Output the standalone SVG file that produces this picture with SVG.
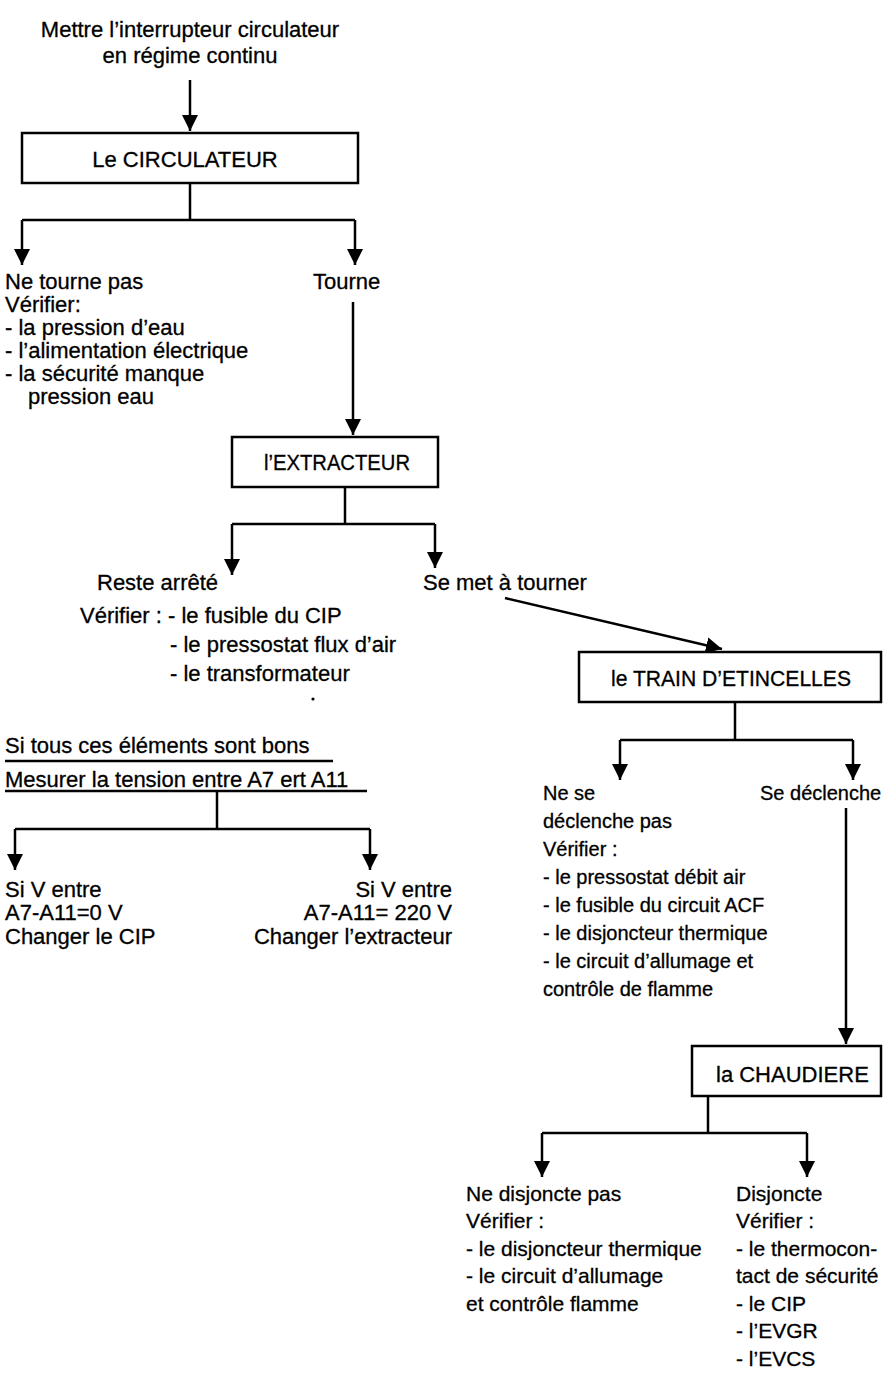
<svg xmlns="http://www.w3.org/2000/svg" width="883" height="1374" viewBox="0 0 883 1374">
<style>
text{font-family:"Liberation Sans",Arial,sans-serif;font-size:22px;fill:#000;stroke:#000;stroke-width:0.3}
.s21{font-size:21px}
.s20{font-size:20px}
.box{fill:#fff;stroke:#000;stroke-width:2.5}
.ln{fill:none;stroke:#000;stroke-width:2.5}
</style>
<defs>
<marker id="ah" viewBox="0 0 10 10" refX="10" refY="5" markerUnits="userSpaceOnUse" markerWidth="16" markerHeight="20" orient="auto">
<path d="M0,0 L10,5 L0,10 z" fill="#000"/>
</marker>
</defs>
<rect width="883" height="1374" fill="#fff"/>

<g id="connectors">
<line class="ln" x1="190" y1="80" x2="190" y2="131" marker-end="url(#ah)"/>
<path class="ln" d="M190 183 V220 M22 220 H355"/>
<line class="ln" x1="22" y1="220" x2="22" y2="265" marker-end="url(#ah)"/>
<line class="ln" x1="355" y1="220" x2="355" y2="265" marker-end="url(#ah)"/>
<line class="ln" x1="353" y1="302" x2="353" y2="435" marker-end="url(#ah)"/>
<path class="ln" d="M345 487 V524 M232 524 H435"/>
<line class="ln" x1="232" y1="524" x2="232" y2="575" marker-end="url(#ah)"/>
<line class="ln" x1="435" y1="524" x2="435" y2="568" marker-end="url(#ah)"/>
<line class="ln" x1="505" y1="598" x2="722" y2="649" marker-end="url(#ah)"/>
<path class="ln" d="M735 702 V740 M620 740 H853"/>
<line class="ln" x1="620" y1="740" x2="620" y2="780" marker-end="url(#ah)"/>
<line class="ln" x1="853" y1="740" x2="853" y2="780" marker-end="url(#ah)"/>
<line class="ln" x1="846" y1="808" x2="846" y2="1044" marker-end="url(#ah)"/>
<path class="ln" d="M708 1096 V1133 M542 1133 H807"/>
<line class="ln" x1="542" y1="1133" x2="542" y2="1177" marker-end="url(#ah)"/>
<line class="ln" x1="807" y1="1133" x2="807" y2="1177" marker-end="url(#ah)"/>
<path class="ln" d="M5 761 H333 M5 791 H367 M217 791 V829 M15 829 H370"/>
<line class="ln" x1="15" y1="829" x2="15" y2="870" marker-end="url(#ah)"/>
<line class="ln" x1="370" y1="829" x2="370" y2="870" marker-end="url(#ah)"/>
</g>

<g id="start">
<text x="190" y="37" text-anchor="middle">Mettre l’interrupteur circulateur</text>
<text x="190" y="63" text-anchor="middle">en régime continu</text>
</g>

<g id="circulateur">
<rect class="box" x="22" y="133" width="336" height="50"/>
<text x="185" y="167" text-anchor="middle">Le CIRCULATEUR</text>
</g>

<g id="ne-tourne-pas">
<text x="5" y="289">Ne tourne pas</text>
<text x="5" y="312">Vérifier:</text>
<text x="5" y="335">- la pression d’eau</text>
<text x="5" y="358">- l’alimentation électrique</text>
<text x="5" y="381">- la sécurité manque</text>
<text x="28" y="404">pression eau</text>
</g>

<g id="tourne">
<text x="313" y="289">Tourne</text>
</g>

<g id="extracteur">
<rect class="box" x="232" y="437" width="206" height="50"/>
<text x="337" y="470" text-anchor="middle" textLength="146" lengthAdjust="spacingAndGlyphs">l’EXTRACTEUR</text>
</g>

<g id="reste-arrete">
<text x="97" y="590">Reste arrêté</text>
<text x="80" y="623">Vérifier : - le fusible du CIP</text>
<text x="170" y="652">- le pressostat flux d’air</text>
<text x="170" y="681">- le transformateur</text>
<circle cx="313" cy="699" r="1.6" fill="#000"/>
</g>

<g id="se-met-a-tourner">
<text x="423" y="590">Se met à tourner</text>
</g>

<g id="train">
<rect class="box" x="579" y="652" width="302" height="50"/>
<text x="731" y="686" text-anchor="middle" textLength="240" lengthAdjust="spacingAndGlyphs">le TRAIN D’ETINCELLES</text>
</g>

<g id="ne-se-declenche-pas">
<text class="s20" x="543" y="800">Ne se</text>
<text class="s20" x="543" y="828">déclenche pas</text>
<text class="s20" x="543" y="856">Vérifier :</text>
<text class="s20" x="543" y="884">- le pressostat débit air</text>
<text class="s20" x="543" y="912">- le fusible du circuit ACF</text>
<text class="s20" x="543" y="940">- le disjoncteur thermique</text>
<text class="s20" x="543" y="968">- le circuit d’allumage et</text>
<text class="s20" x="543" y="996">contrôle de flamme</text>
</g>

<g id="se-declenche">
<text class="s20" x="760" y="800">Se déclenche</text>
</g>

<g id="chaudiere">
<rect class="box" x="692" y="1046" width="189" height="50"/>
<text x="716" y="1082">la CHAUDIERE</text>
</g>

<g id="ne-disjoncte-pas">
<text class="s21" x="466" y="1201">Ne disjoncte pas</text>
<text class="s21" x="466" y="1228">Vérifier :</text>
<text class="s21" x="466" y="1256">- le disjoncteur thermique</text>
<text class="s21" x="466" y="1283">- le circuit d’allumage</text>
<text class="s21" x="466" y="1311">et contrôle flamme</text>
</g>

<g id="disjoncte">
<text class="s21" x="736" y="1201">Disjoncte</text>
<text class="s21" x="736" y="1228">Vérifier :</text>
<text class="s21" x="736" y="1256">- le thermocon-</text>
<text class="s21" x="736" y="1283">tact de sécurité</text>
<text class="s21" x="736" y="1311">- le CIP</text>
<text class="s21" x="736" y="1338">- l’EVGR</text>
<text class="s21" x="736" y="1366">- l’EVCS</text>
</g>

<g id="mesure">
<text x="5" y="753">Si tous ces éléments sont bons</text>
<text x="5" y="787">Mesurer la tension entre A7 ert A11</text>
</g>

<g id="zero-volt">
<text x="5" y="897">Si V entre</text>
<text x="5" y="920">A7-A11=0 V</text>
<text x="5" y="944">Changer le CIP</text>
</g>

<g id="deux-cent-vingt">
<text x="452" y="897" text-anchor="end">Si V entre</text>
<text x="452" y="920" text-anchor="end">A7-A11= 220 V</text>
<text x="452" y="944" text-anchor="end">Changer l’extracteur</text>
</g>
</svg>
